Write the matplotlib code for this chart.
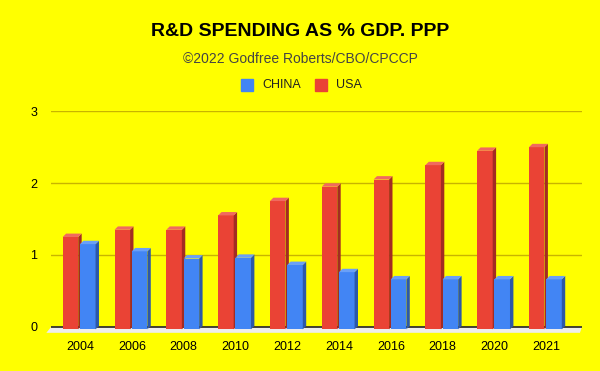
import numpy as np
import matplotlib.pyplot as plt
from matplotlib.patches import Polygon

years = ['2004', '2006', '2008', '2010', '2012', '2014', '2016', '2018', '2020', '2021']
usa = [1.25, 1.35, 1.35, 1.55, 1.75, 1.95, 2.05, 2.25, 2.45, 2.5]
china = [1.15, 1.05, 0.95, 0.96, 0.86, 0.76, 0.66, 0.66, 0.66, 0.66]

plt.rcParams['font.family'] = ['Liberation Sans', 'DejaVu Sans']

fig = plt.figure(figsize=(6, 3.71), dpi=100)
fig.patch.set_facecolor('#ffff00')
ax = fig.add_axes([51 / 600, 0.10, 531 / 600, 0.60])
ax.set_facecolor('#ffff00')

x = np.arange(len(years))
w = 0.30
dx, dy = 0.066, 0.047   # fake 3d depth
base = -0.036
xmin, xmax = -0.526, 9.724
ax.set_xlim(xmin, xmax)
ax.set_ylim(-0.1, 3)

# grid
for g in [1, 2, 3]:
    ax.axhline(g, color='#c8b400', lw=1, zorder=1)

# floor
floor = Polygon([(xmin + 0.005, 0), (xmax, 0), (xmax - 0.04, -0.085), (xmin - 0.09, -0.085)],
                closed=True, facecolor='#eeeeee', edgecolor='none', zorder=2, clip_on=False)
ax.add_patch(floor)
ax.axhline(0, color='#222222', lw=1.2, zorder=3)


def bars3d(xs, vals, front, side, top):
    ax.bar(xs, np.array(vals) - base, width=w, bottom=base, align='edge',
           color=front, zorder=4)
    for xi, v in zip(xs, vals):
        ax.add_patch(Polygon([(xi + w, base), (xi + w + dx, base + dy),
                              (xi + w + dx, v + dy), (xi + w, v)],
                             closed=True, facecolor=side, edgecolor='none', zorder=4))
        ax.add_patch(Polygon([(xi, v), (xi + dx, v + dy), (xi + w + dx, v + dy), (xi + w, v)],
                             closed=True, facecolor=top, edgecolor='none', zorder=4))


bars3d(x - 0.30, usa, '#ea4335', '#a32c22', '#f06a5f')
bars3d(x + 0.034, china, '#4285f4', '#2c58a8', '#6aa0f7')

ax.set_xticks(x + 0.034)
ax.set_xticklabels(years, fontsize=9)
ax.set_yticks([0, 1, 2, 3])
ax.set_yticklabels(['0', '1', '2', '3'], fontsize=9)
ax.tick_params(length=0)
ax.tick_params(axis='x', pad=5)
ax.tick_params(axis='y', pad=10)
for s in ax.spines.values():
    s.set_visible(False)

fig.text(0.5, 1 - 32 / 371, 'R&D SPENDING AS % GDP. PPP', ha='center', va='center',
         fontsize=14, fontweight='bold', color='black')
fig.text(0.5, 1 - 59 / 371, '\u00a92022 Godfree Roberts/CBO/CPCCP', ha='center', va='center',
         fontsize=10, color='#444444')

# legend
fig.patches.append(plt.Rectangle((241 / 600, 1 - 91 / 371), 12 / 600, 12 / 371,
                                 color='#4285f4', transform=fig.transFigure, figure=fig))
fig.text(262 / 600, 1 - 85 / 371, 'CHINA', va='center', fontsize=9, color='#222222')
fig.patches.append(plt.Rectangle((315 / 600, 1 - 91 / 371), 12 / 600, 12 / 371,
                                 color='#ea4335', transform=fig.transFigure, figure=fig))
fig.text(336 / 600, 1 - 85 / 371, 'USA', va='center', fontsize=9, color='#222222')

fig.savefig('out.png', dpi=100, facecolor=fig.get_facecolor())
